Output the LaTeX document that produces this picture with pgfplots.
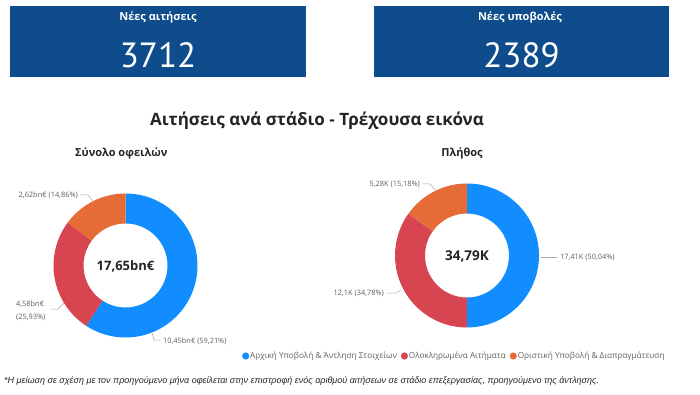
\documentclass[border=0pt]{standalone}
\usepackage{fontspec}
\setmainfont{Open Sans}
\newfontfamily\kpifont{PT Sans}
\newfontfamily\notefont{Liberation Sans}
\usepackage{pgfplots}
\usepackage{pgfplotstable}
\pgfplotsset{compat=1.18}
\definecolor{pbblue}{HTML}{118DFF}
\definecolor{pbred}{HTML}{D64550}
\definecolor{pborange}{HTML}{E66C37}
\definecolor{kpiblue}{HTML}{0E4C8C}
\definecolor{lblgray}{HTML}{605E5C}
\definecolor{txtdark}{HTML}{252423}

% Donut 1: Σύνολο οφειλών (percent shares); ci = colour index
\pgfplotstableread{
cx cy pct ci
125.5 265.5 59.21 0
125.5 265.5 25.93 1
125.5 265.5 14.86 2
}\debttbl
\pgfplotstablecreatecol[create col/expr accum={\pgfmathaccuma+\thisrow{pct}}{0}]{cum}\debttbl

% Donut 2: Πλήθος (percent shares)
\pgfplotstableread{
cx cy pct ci
467 255.5 50.04 0
467 255.5 34.78 1
467 255.5 15.18 2
}\numtbl
\pgfplotstablecreatecol[create col/expr accum={\pgfmathaccuma+\thisrow{pct}}{0}]{cum}\numtbl

\newcommand{\Rout}{72pt}
\newcommand{\Rin}{42pt}
\pgfdeclareplotmark{seg}{%
  \pgfmathtruncatemacro\segci{\segidx}%
  \ifcase\segci\relax \pgfsetfillcolor{pbblue}\or \pgfsetfillcolor{pbred}\else \pgfsetfillcolor{pborange}\fi
  \pgfpathmoveto{\pgfpointpolar{\aone}{\Rout}}%
  \pgfpatharc{\aone}{\atwo}{\Rout}%
  \pgfpathlineto{\pgfpointpolar{\atwo}{\Rin}}%
  \pgfpatharc{\atwo}{\aone}{\Rin}%
  \pgfpathclose
  \pgfusepath{fill}%
}

\pgfplotsset{donut/.style={
  scatter, only marks, mark=seg,
  visualization depends on={90-3.6*(\thisrow{cum}-\thisrow{pct})\as\aone},
  visualization depends on={90-3.6*\thisrow{cum}\as\atwo},
  visualization depends on={\thisrow{ci}\as\segidx},
  scatter/@pre marker code/.code={\begin{scope}},
  scatter/@post marker code/.code={\end{scope}},
  forget plot
}}

\begin{document}
\begin{tikzpicture}
\begin{axis}[
  width=700pt, height=395pt, scale only axis,
  xmin=0, xmax=700, ymin=0, ymax=395, y dir=reverse,
  hide axis, clip=false,
  legend style={at={(axis cs:242,356)}, anchor=west, draw=none, fill=none,
    legend columns=3, font=\fontsize{8.2}{10}\selectfont, text=lblgray,
    inner sep=0pt, nodes={inner sep=1pt},
    /tikz/every even column/.append style={column sep=3pt}},
]
\path (axis cs:0,0) rectangle (axis cs:700,395);

% KPI cards
\fill[kpiblue] (axis cs:10,6) rectangle (axis cs:306,77);
\fill[kpiblue] (axis cs:374,6) rectangle (axis cs:669,77);
\node[white, font=\bfseries\fontsize{11}{13}\selectfont] at (axis cs:158,17) {Νέες αιτήσεις};
\node[white, font=\kpifont\fontsize{35}{40}\selectfont] at (axis cs:158,55) {3712};
\node[white, font=\bfseries\fontsize{11}{13}\selectfont] at (axis cs:520,17) {Νέες υποβολές};
\node[white, font=\kpifont\fontsize{35}{40}\selectfont] at (axis cs:521.5,55) {2389};

% Titles
\node[txtdark, font=\bfseries\fontsize{17}{20}\selectfont] at (axis cs:317,121) {Αιτήσεις ανά στάδιο - Τρέχουσα εικόνα};
\node[txtdark, anchor=west, inner sep=0pt, font=\bfseries\fontsize{11}{13}\selectfont] at (axis cs:75,153) {Σύνολο οφειλών};
\node[txtdark, inner sep=0pt, font=\bfseries\fontsize{11}{13}\selectfont] at (axis cs:462,153) {Πλήθος};

% Donuts
\addplot[donut] table[x=cx, y=cy] {\debttbl};
\addplot[donut] table[x=cx, y=cy] {\numtbl};

\node[txtdark, font=\bfseries\fontsize{13}{15}\selectfont] at (axis cs:125.5,266) {17,65bn€};
\node[txtdark, font=\bfseries\fontsize{13.5}{15}\selectfont] at (axis cs:467,256.5) {34,79K};

% Data labels and leader lines
\begin{scope}[every node/.style={text=lblgray, inner sep=0pt, font=\fontsize{7.4}{9}\selectfont}]
\draw[lblgray!55, line width=0.5pt] (axis cs:80,195) -- (axis cs:88,195) -- (axis cs:93,201);
\node[anchor=east] at (axis cs:78,195) {2,62bn€ (14,86\%)};
\draw[lblgray!55, line width=0.5pt] (axis cs:50,309) -- (axis cs:58,309) -- (axis cs:64,303);
\node[anchor=west] at (axis cs:16,304) {4,58bn€};
\node[anchor=west] at (axis cs:16,317) {(25,93\%)};
\draw[lblgray!55, line width=0.5pt] (axis cs:152,333) -- (axis cs:154,340) -- (axis cs:161,340);
\node[anchor=west] at (axis cs:163,341) {10,45bn€ (59,21\%)};

\draw[lblgray!55, line width=0.5pt] (axis cs:422,184) -- (axis cs:430,184) -- (axis cs:435,190);
\node[anchor=east] at (axis cs:420,184) {5,28K (15,18\%)};
\draw[lblgray!55, line width=0.5pt] (axis cs:541,257) -- (axis cs:557,257);
\node[anchor=west] at (axis cs:560,257) {17,41K (50,04\%)};
\draw[lblgray!55, line width=0.5pt] (axis cs:386,293) -- (axis cs:396,293) -- (axis cs:401,290);
\node[anchor=east] at (axis cs:384,293) {12,1K (34,78\%)};
\end{scope}

% Legend
\addlegendimage{legend image code/.code={\fill[pbblue] (0pt,0pt) circle (3.3pt);}}
\addlegendentry{Αρχική Υποβολή \& Άντληση Στοιχείων}
\addlegendimage{legend image code/.code={\fill[pbred] (0pt,0pt) circle (3.3pt);}}
\addlegendentry{Ολοκληρωμένα Αιτήματα}
\addlegendimage{legend image code/.code={\fill[pborange] (0pt,0pt) circle (3.3pt);}}
\addlegendentry{Οριστική Υποβολή \& Διαπραγμάτευση}

% Footnote
\node[txtdark, anchor=west, inner sep=0pt, font=\notefont\itshape\fontsize{9}{10}\selectfont] at (axis cs:4,381) {*Η μείωση σε σχέση με τον προηγούμενο μήνα οφείλεται στην επιστροφή ενός αριθμού αιτήσεων σε στάδιο επεξεργασίας, προηγούμενο της άντλησης.};
\end{axis}
\end{tikzpicture}
\end{document}
